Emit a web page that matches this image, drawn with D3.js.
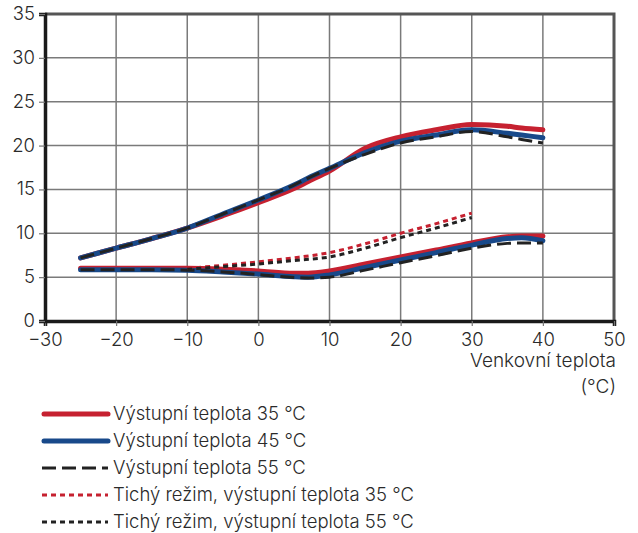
<!DOCTYPE html>
<html>
<head>
<meta charset="utf-8">
<script src="https://cdn.jsdelivr.net/npm/d3@7"></script>
<style>
  body { margin: 0; background: #fff; }
  svg text { font-family: Inter, "Noto Sans", sans-serif; fill: #2a2a2a; font-weight: 300; }
</style>
</head>
<body>
<svg id="chart" width="638" height="533"></svg>
<script>
// x values (outdoor temp) for the main curves
const outdoor = [-25, -20, -15, -10, -5, 0, 5, 7, 10, 15, 20, 25, 30, 35, 37, 40];
const outdoorQuiet = [-10, -5, 0, 5, 10, 15, 20, 25, 30];

// upper curves
const upper35 = [7.2, 8.3, 9.4, 10.6, 12.0, 13.5, 15.1, 15.9, 17.1, 19.7, 21.0, 21.8, 22.4, 22.2, 22.0, 21.8];
const upper45 = [7.2, 8.3, 9.4, 10.6, 12.2, 13.8, 15.5, 16.3, 17.4, 19.2, 20.5, 21.2, 21.8, 21.4, 21.2, 20.9];
const upper55 = [7.2, 8.3, 9.4, 10.6, 12.2, 13.8, 15.5, 16.3, 17.4, 19.0, 20.3, 21.0, 21.6, 21.0, 20.7, 20.3];

// lower curves
const lower35 = [6.0, 6.0, 6.0, 6.0, 5.9, 5.7, 5.45, 5.45, 5.7, 6.5, 7.3, 8.1, 8.9, 9.6, 9.7, 9.7];
const lower45 = [5.85, 5.85, 5.85, 5.8, 5.6, 5.35, 5.05, 5.0, 5.25, 6.1, 6.95, 7.8, 8.65, 9.4, 9.5, 9.15];
const lower55 = [5.85, 5.85, 5.85, 5.8, 5.6, 5.3, 4.95, 4.9, 5.0, 5.8, 6.65, 7.45, 8.3, 8.85, 8.9, 8.9];

// quiet mode
const quiet35 = [6.0, 6.35, 6.75, 7.2, 7.8, 8.8, 10.0, 11.1, 12.3];
const quiet55 = [5.9, 6.2, 6.5, 6.9, 7.3, 8.3, 9.5, 10.6, 11.8];

const xTicks = [-30, -20, -10, 0, 10, 20, 30, 40, 50];
const yTicks = [0, 5, 10, 15, 20, 25, 30, 35];

const legendLabels = [
  "Výstupní teplota 35 °C",
  "Výstupní teplota 45 °C",
  "Výstupní teplota 55 °C",
  "Tichý režim, výstupní teplota 35 °C",
  "Tichý režim, výstupní teplota 55 °C"
];

const red = "#c62130", blue = "#18498a", black = "#222";
const styles = [
  { color: red, width: 5, dash: null },
  { color: blue, width: 5, dash: null },
  { color: black, width: 3, dash: "14,6" },
  { color: red, width: 3, dash: "5,4" },
  { color: black, width: 3, dash: "5,4" }
];

const svg = d3.select("#chart");
const x = d3.scaleLinear().domain([-30, 50]).range([45, 614]);
const y = d3.scaleLinear().domain([0, 35]).range([321, 14]);

// grid
svg.append("g").selectAll("line").data(xTicks.slice(1, -1)).join("line")
  .attr("x1", d => x(d)).attr("x2", d => x(d))
  .attr("y1", y(35)).attr("y2", y(0))
  .attr("stroke", "#7a7a7a").attr("stroke-width", 1.5);
svg.append("g").selectAll("line").data(yTicks.slice(1, -1)).join("line")
  .attr("x1", x(-30)).attr("x2", x(50))
  .attr("y1", d => y(d)).attr("y2", d => y(d))
  .attr("stroke", "#7a7a7a").attr("stroke-width", 1.5);

// frame top/right
svg.append("path")
  .attr("d", `M${x(-30)},${y(35)}H${x(50)}V${y(0)}`)
  .attr("fill", "none").attr("stroke", "#555").attr("stroke-width", 3);

// axes
const xAxis = svg.append("g").attr("transform", `translate(0,${y(0)})`)
  .call(d3.axisBottom(x).tickValues(xTicks).tickSize(5).tickFormat(d => String(d).replace("-", "\u2212")));
const yAxis = svg.append("g").attr("transform", `translate(${x(-30)},0)`)
  .call(d3.axisLeft(y).tickValues(yTicks).tickSize(6));
[xAxis, yAxis].forEach(a => {
  a.select(".domain").attr("stroke", "#1a1a1a").attr("stroke-width", 3.5);
  a.selectAll(".tick line").attr("stroke", "#777").attr("stroke-width", 1.2);
  a.selectAll(".tick text").style("font-size", "18.5px").attr("fill", "#2a2a2a");
});
xAxis.selectAll(".tick text").attr("dy", "0.9em");
yAxis.selectAll(".tick text").attr("x", -10).attr("dy", "0.3em");

// x-axis title
svg.append("text").attr("x", 616).attr("y", 367).attr("text-anchor", "end")
  .style("font-size", "19px").text("Venkovní teplota");
svg.append("text").attr("x", 616).attr("y", 393).attr("text-anchor", "end")
  .style("font-size", "19px").text("(°C)");

// lines
const line = d3.line().x(d => x(d[0])).y(d => y(d[1])).curve(d3.curveMonotoneX);
const series = [
  [outdoor, upper35, 0], [outdoor, lower35, 0],
  [outdoor, upper45, 1], [outdoor, lower45, 1],
  [outdoor, upper55, 2], [outdoor, lower55, 2],
  [outdoorQuiet, quiet35, 3], [outdoorQuiet, quiet55, 4]
];
series.forEach(([xs, ys, s]) => {
  const st = styles[s];
  svg.append("path")
    .datum(xs.map((v, i) => [v, ys[i]]))
    .attr("d", line)
    .attr("fill", "none")
    .attr("stroke", st.color)
    .attr("stroke-width", st.width)
    .attr("stroke-linecap", st.dash ? "butt" : "round")
    .attr("stroke-dasharray", st.dash);
});

// legend
const legend = svg.append("g").selectAll("g").data(legendLabels).join("g")
  .attr("transform", (d, i) => `translate(0,${414 + i * 27})`);
legend.append("line")
  .attr("x1", (d, i) => styles[i].dash ? 42 : 44).attr("x2", 108)
  .attr("stroke", (d, i) => styles[i].color)
  .attr("stroke-width", (d, i) => styles[i].width)
  .attr("stroke-linecap", (d, i) => styles[i].dash ? "butt" : "round")
  .attr("stroke-dasharray", (d, i) => styles[i].dash);
legend.append("text").attr("x", 113).attr("dy", "0.35em")
  .style("font-size", "18.5px").text(d => d);
</script>
</body>
</html>
